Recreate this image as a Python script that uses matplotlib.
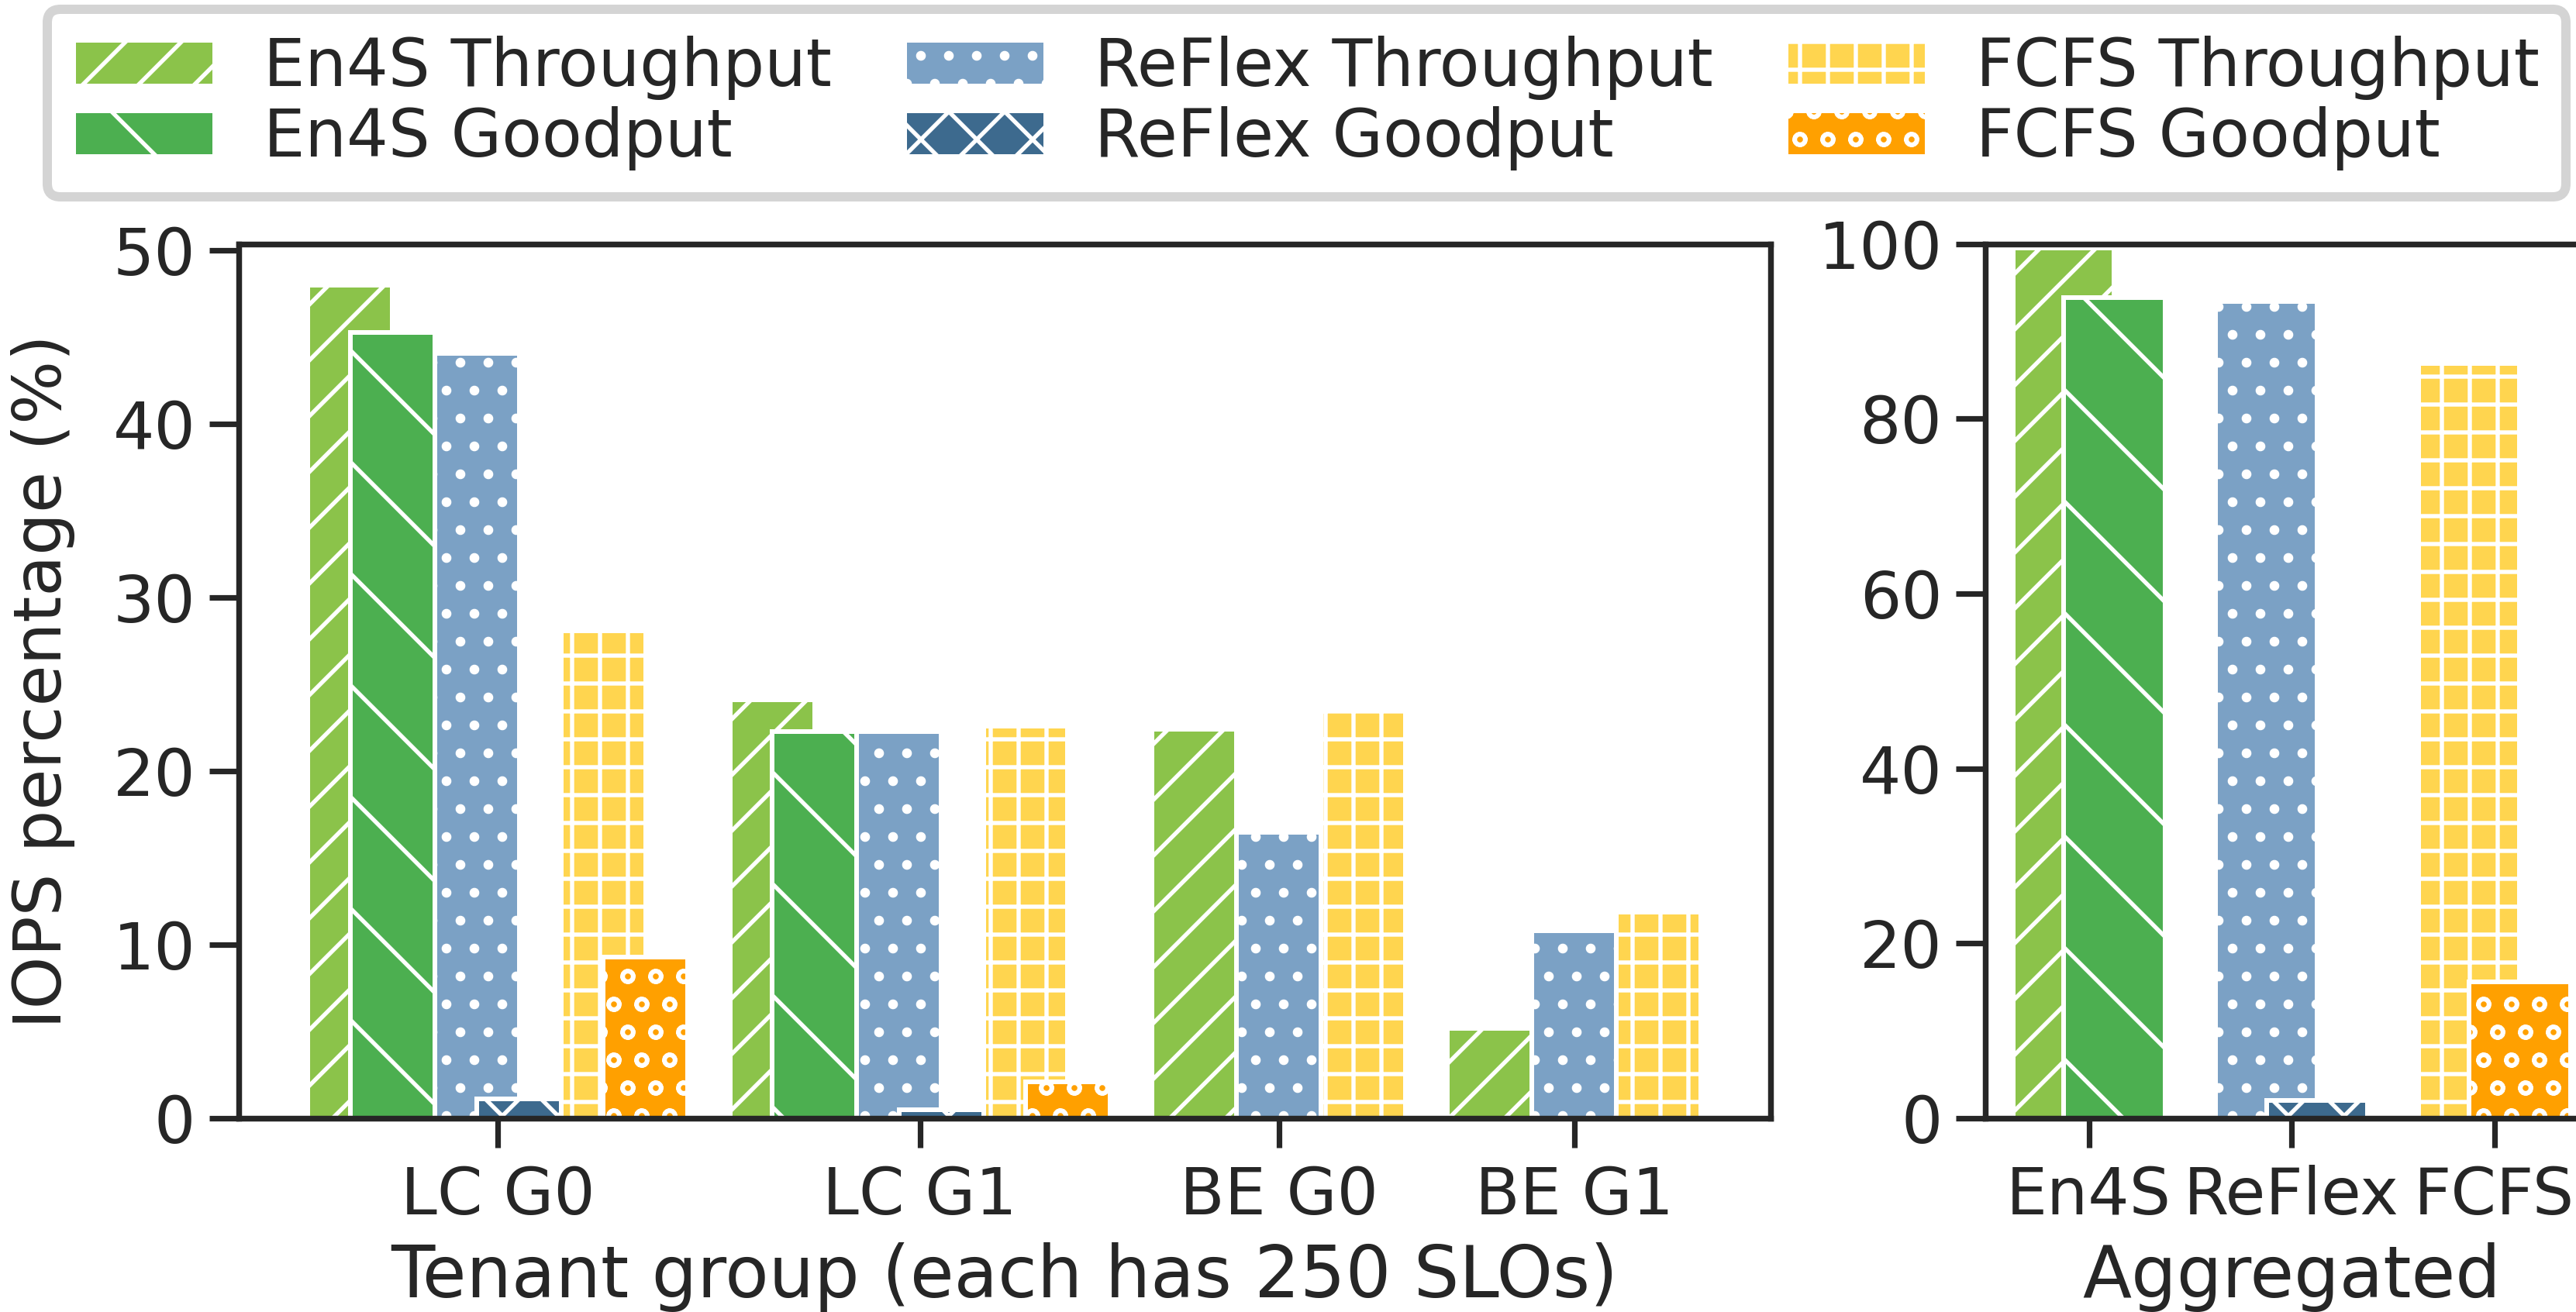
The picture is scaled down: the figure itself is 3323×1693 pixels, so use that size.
import matplotlib
matplotlib.use("Agg")
import matplotlib.pyplot as plt

# ---- data (IOPS share in %) ----
groups = ["LC G0", "LC G1", "BE G0", "BE G1"]
methods = ["En4S", "ReFlex", "FCFS"]

en4s_tput = [48.0, 24.1, 22.4, 5.2]
reflex_tput = [44.1, 22.3, 16.5, 10.8]
fcfs_tput = [28.1, 22.6, 23.6, 11.9]
# goodput only exists for the latency-critical groups
en4s_gput = [45.3, 22.3]
reflex_gput = [1.1, 0.5]
fcfs_gput = [9.3, 2.1]

agg_tput = [99.5, 93.4, 86.3]
agg_gput = [93.8, 2.0, 15.6]

# ---- style ----
DPI = 864
INK = "#262626"
plt.rcParams.update({
    "font.family": "DejaVu Sans",
    "text.color": INK, "axes.labelcolor": INK,
    "xtick.color": INK, "ytick.color": INK,
    "axes.edgecolor": INK, "axes.linewidth": 0.62,
    "xtick.major.size": 3.2, "ytick.major.size": 3.2,
    "xtick.major.width": 0.6, "ytick.major.width": 0.6,
    "xtick.major.pad": 1.8, "ytick.major.pad": 1.4,
    "xtick.labelsize": 7.0, "ytick.labelsize": 7.0,
    "axes.labelsize": 7.7,
    "hatch.linewidth": 0.45,
})

TPUT_STYLE = [("#8bc34a", "////"), ("#7ba1c5", "...."), ("#ffd54f", "++++")]
GPUT_STYLE = [("#4caf50", "\\\\"), ("#3d6a8e", "xxxx"), ("#ffa000", "oooo")]
BAR_KW = dict(width=1.0, edgecolor="white", linewidth=0.5)

W, H = 3323, 1693
fig = plt.figure(figsize=(W / DPI, H / DPI), dpi=DPI)
y0, y1 = 1 - 1443 / H, 1 - 314.5 / H
ax1 = fig.add_axes([307.5 / W, y0, (2284 - 307.5) / W, y1 - y0])
ax2 = fig.add_axes([2560.7 / W, y0, (3351.7 - 2560.7) / W, y1 - y0])

# ---- per-group panel ----
n_lc = len(en4s_gput)
starts, s = [], 0.0
for i in range(len(groups)):
    starts.append(s)
    s += (3.5 if i < n_lc else 2.0) + 1.5

tput = [en4s_tput, reflex_tput, fcfs_tput]
gput = [en4s_gput, reflex_gput, fcfs_gput]
handles = []
for j, m in enumerate(methods):
    xs = [starts[i] + (1.5 * j if i < n_lc else j) for i in range(len(groups))]
    c, h = TPUT_STYLE[j]
    handles.append(ax1.bar(xs, tput[j], color=c, hatch=h, label=f"{m} Throughput", **BAR_KW))
for j, m in enumerate(methods):
    xs = [starts[i] + 1.5 * j + 0.5 for i in range(n_lc)]
    c, h = GPUT_STYLE[j]
    handles.append(ax1.bar(xs, gput[j], color=c, hatch=h, label=f"{m} Goodput", **BAR_KW))

ax1.set_xticks([st + (1.75 if i < n_lc else 1.0) for i, st in enumerate(starts)])
ax1.set_xticklabels(groups)
ax1.set_yticks(range(0, 51, 10))
ax1.set_xlabel("Tenant group (each has 250 SLOs)", labelpad=1.6)
ax1.set_ylabel("IOPS percentage (%)", fontsize=7.2)

# ---- aggregated panel ----
for j in range(len(methods)):
    c, h = TPUT_STYLE[j]
    ax2.bar(2 * j, agg_tput[j], color=c, hatch=h, **BAR_KW)
for j in range(len(methods)):
    c, h = GPUT_STYLE[j]
    ax2.bar(2 * j + 0.5, agg_gput[j], color=c, hatch=h, **BAR_KW)
ax2.set_xticks([2 * j + 0.25 for j in range(len(methods))])
ax2.set_xticklabels(methods)
ax2.set_ylim(0, 100)
ax2.set_yticks(range(0, 101, 20))
ax2.set_xlabel("Aggregated", labelpad=1.6)

# legend: T/G pairs stacked per column
order = [0, 3, 1, 4, 2, 5]
leg = fig.legend([handles[k] for k in order], [handles[k].get_label() for k in order],
                 ncol=3, mode="expand", loc="upper left",
                 bbox_to_anchor=(61 / W, 0, (3310 - 61) / W, 1 - 12 / H),
                 borderaxespad=0, fontsize=7.05, labelspacing=0.1,
                 handlelength=2.15, handleheight=0.7, handletextpad=0.75,
                 fancybox=True, framealpha=1.0, edgecolor="#d4d4d4")
leg.get_frame().set_linewidth(1.0)

fig.savefig("out.png", dpi=DPI, facecolor="white")
